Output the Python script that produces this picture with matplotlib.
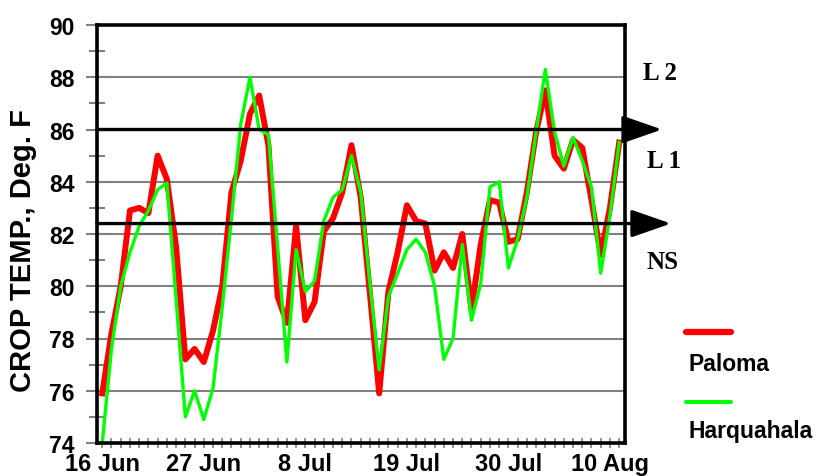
import numpy as np
import pandas as pd
import matplotlib
matplotlib.use('Agg')
import matplotlib.pyplot as plt
from matplotlib.lines import Line2D

plt.rcParams['font.family'] = ['Liberation Sans', 'DejaVu Sans']
plt.rcParams['font.weight'] = 'bold'

# daily crop temperature, deg F, from 16 Jun
START = '2000-06-16'
paloma = [75.9, 78.2, 80.0, 82.9, 83.0, 82.8, 85.0, 84.1, 81.5, 77.2,
          77.6, 77.1, 78.3, 80.0, 83.6, 84.8, 86.6, 87.3, 85.4, 79.6,
          78.6, 82.3, 78.7, 79.4, 82.1, 82.6, 83.6, 85.4, 83.4, 79.7,
          75.9, 79.8, 81.3, 83.1, 82.5, 82.4, 80.6, 81.3, 80.7, 82.0,
          79.1, 81.6, 83.3, 83.2, 81.7, 81.8, 83.6, 85.9, 87.5, 85.0,
          84.5, 85.6, 85.3, 83.3, 81.2, 83.0, 85.5]
harquahala = [74.0, 77.6, 80.0, 81.3, 82.3, 82.9, 83.7, 83.95, 79.5, 75.0,
              76.0, 74.9, 76.1, 79.2, 82.6, 86.2, 88.0, 86.0, 85.8, 81.5,
              77.1, 81.4, 79.8, 80.2, 82.5, 83.4, 83.7, 85.0, 83.6, 80.1,
              76.8, 79.6, 80.5, 81.4, 81.8, 81.3, 80.0, 77.2, 78.0, 81.6,
              78.7, 80.1, 83.8, 84.0, 80.7, 81.8, 83.4, 85.9, 88.3, 85.9,
              84.6, 85.7, 84.8, 83.8, 80.5, 82.7, 85.5]
series_names = ['Paloma', 'Harquahala']
series_colors = ['#ff0000', '#00ff00']

thresholds = [86.0, 82.4]
level_labels = ['L 2', 'L 1', 'NS']
level_label_y = [87.93, 84.56, 80.71]

yticks = np.arange(74, 91, 2)
tick_days = [0, 11, 22, 33, 44, 55]

days = np.arange(len(paloma))
dates = pd.date_range(START, periods=len(paloma), freq='D')
tick_labels = [f"{d.day} {d.strftime('%b')}" for d in dates[tick_days]]

fig = plt.figure(figsize=(8.17, 4.77), dpi=100)
ax = fig.add_axes([97/817, 33/477, 528/817, 418/477])

for v in yticks[1:-1]:
    ax.axhline(v, color='#808080', lw=1.5, zorder=1)

ax.plot(days, paloma, color=series_colors[0], lw=4.3, zorder=3)
ax.plot(days, harquahala, color=series_colors[1], lw=2.4, zorder=4)

ax.set_xlim(-0.57, 56.63)
ax.set_ylim(74, 90)

ax.set_yticks(yticks)
ax.set_yticklabels([str(v) for v in yticks], fontsize=16.5, fontweight='bold')
ax.set_yticks(np.arange(75, 90, 2), minor=True)
ax.tick_params(axis='y', which='major', direction='inout', length=16, width=1.5,
               color='#808080', pad=8, right=False)
ax.tick_params(axis='y', which='minor', direction='inout', length=11.5, width=1.5,
               color='#808080', right=False)

ax.set_xticks(tick_days)
ax.set_xticklabels(tick_labels, fontsize=17, fontweight='bold')
ax.set_xticks(days, minor=True)
ax.tick_params(axis='x', which='both', direction='inout', length=7.5, width=1.2,
               color='#808080', pad=3, top=False)

for s in ax.spines.values():
    s.set_linewidth(2.6)
    s.set_color('black')
    s.set_zorder(5)

# threshold arrows
tips = [1.07, 1.087]
for t, tip in zip(thresholds, tips):
    ax.annotate('', xy=(tip, t), xycoords=('axes fraction', 'data'),
                xytext=(0, t), textcoords=('axes fraction', 'data'),
                arrowprops=dict(arrowstyle='-|>,head_length=2.44,head_width=0.85',
                                color='k', lw=2.4, mutation_scale=10,
                                shrinkA=0, shrinkB=0),
                annotation_clip=False, zorder=6)

label_x = [1.034, 1.041, 1.041]
for lab, lx, ly in zip(level_labels, label_x, level_label_y):
    ax.text(lx, ly, lab, transform=ax.get_yaxis_transform(), fontsize=18,
            fontweight='bold', family='Liberation Serif', va='baseline',
            ha='left', clip_on=False)

fig.text(23/817, 1 - 251/477, 'CROP TEMP., Deg. F', rotation=90, fontsize=21,
         fontweight='bold', ha='center', va='center')

# legend: line sample above the name
leg_line_y = [1 - 333/477, 1 - 403/477]
leg_text_y = [1 - 370.7/477, 1 - 438.3/477]
leg_lw = [4.5, 2.9]
for name, c, ly, ty, lw in zip(series_names, series_colors, leg_line_y, leg_text_y, leg_lw):
    fig.add_artist(Line2D([686/817, 731/817], [ly, ly], color=c, lw=lw,
                          solid_capstyle='round', transform=fig.transFigure))
    fig.text(688/817, ty, name, fontsize=16.5, fontweight='bold', va='baseline', ha='left')

fig.savefig('out.png', dpi=100)
